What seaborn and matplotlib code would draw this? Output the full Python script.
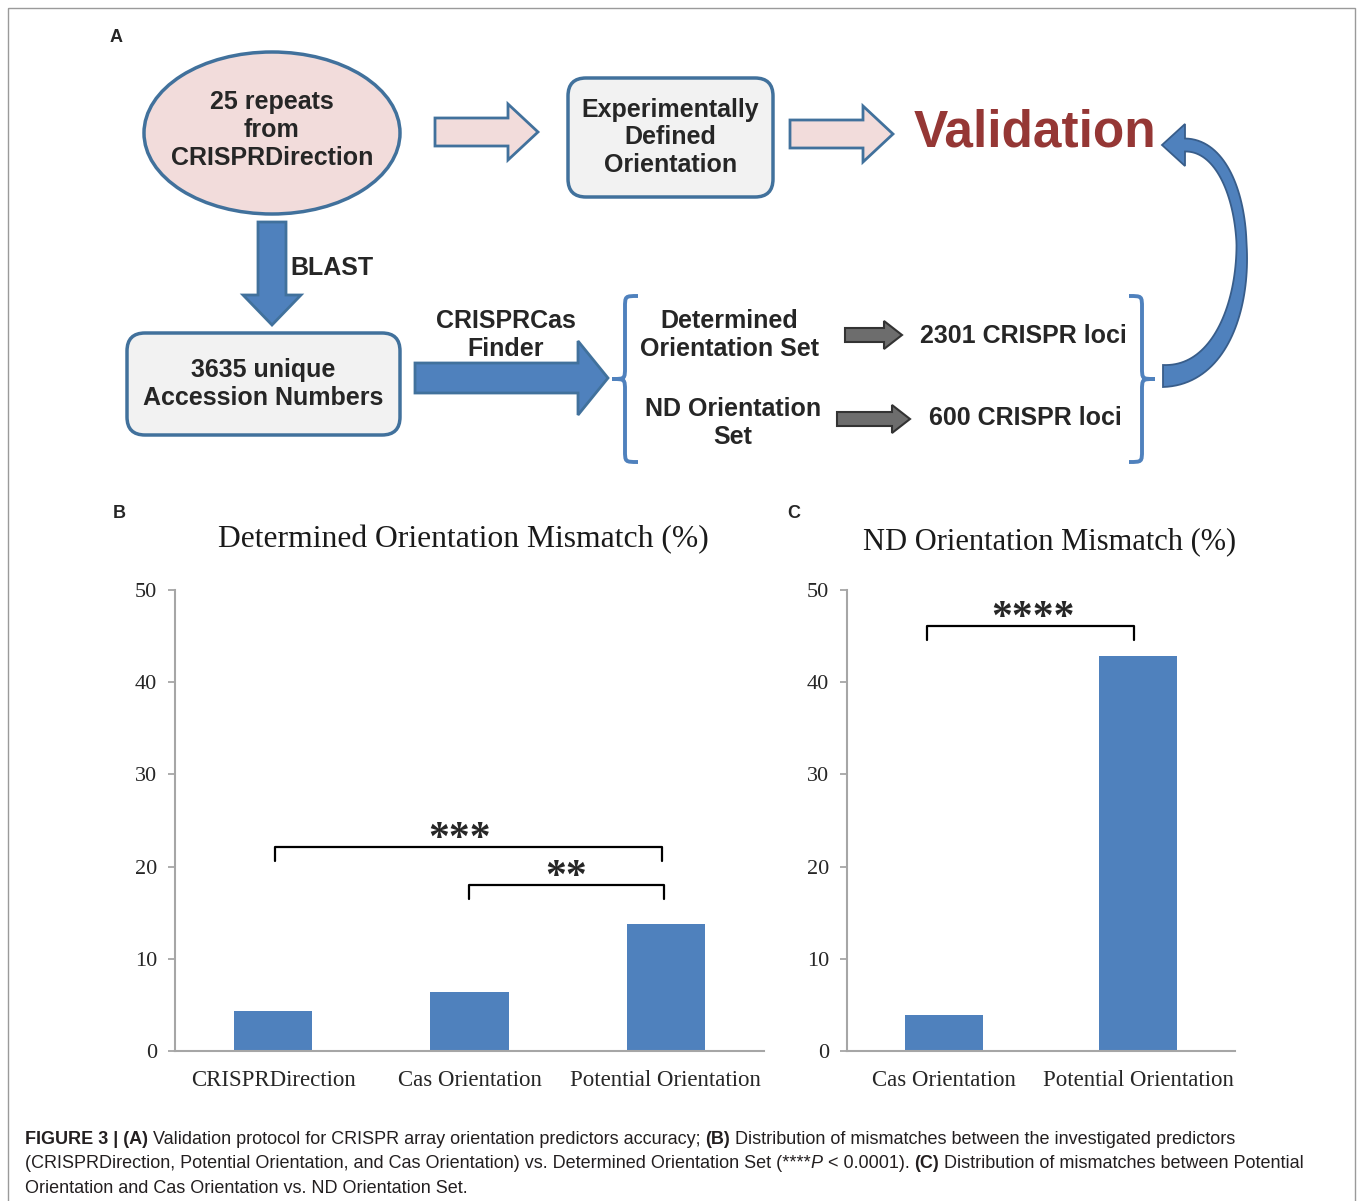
import numpy as np
import seaborn as sns
import matplotlib.pyplot as plt
from matplotlib import font_manager
from matplotlib.patches import Ellipse, FancyBboxPatch, FancyArrow, Polygon, PathPatch, Rectangle
from matplotlib.path import Path

# данные панелей B и C
b_categories = ["CRISPRDirection", "Cas Orientation", "Potential Orientation"]
b_values = [4.3, 6.4, 13.8]
c_categories = ["Cas Orientation", "Potential Orientation"]
c_values = [3.9, 42.8]
y_ticks = [0, 10, 20, 30, 40, 50]

sns.set_style("white")
plt.rcParams['font.family'] = ['Liberation Sans', 'DejaVu Sans']

W, H = 1357, 1201
fig = plt.figure(figsize=(W / 100, H / 100), dpi=100)
ax0 = fig.add_axes([0, 0, 1, 1])
ax0.set_xlim(0, W)
ax0.set_ylim(H, 0)
ax0.axis('off')

BLUE = '#4F81BD'
EDGE = '#41719C'
PINK = '#F2DCDB'
GREYBOX = '#F2F2F2'
FS = 18

# рамка вокруг рисунка
ax0.add_patch(Rectangle((8, 8), 1347, 1200, fill=False, edgecolor='#9A9A9A', lw=1))

# ---------- панель A ----------
ax0.text(116, 38, "A", fontsize=13, fontweight='bold', ha='center', va='center')

ax0.add_patch(Ellipse((272, 133), 256, 162, facecolor=PINK, edgecolor=EDGE, lw=2.5))
ax0.text(272, 130, "25 repeats\nfrom\nCRISPRDirection", fontsize=FS, fontweight='bold',
         ha='center', va='center', linespacing=1.2)


def box(x0, y0, x1, y1, txt):
    ax0.add_patch(FancyBboxPatch((x0, y0), x1 - x0, y1 - y0,
                                 boxstyle="round,pad=0,rounding_size=18",
                                 facecolor=GREYBOX, edgecolor=EDGE, lw=2.5))
    ax0.text((x0 + x1) / 2, (y0 + y1) / 2, txt, fontsize=FS, fontweight='bold',
             ha='center', va='center', linespacing=1.2)


def arrow(x, y, dx, dy, w, hw, hl, fc, ec, lw=2):
    ax0.add_patch(FancyArrow(x, y, dx, dy, width=w, head_width=hw, head_length=hl,
                             length_includes_head=True, facecolor=fc, edgecolor=ec, lw=lw))


box(568, 78, 773, 197, "Experimentally\nDefined\nOrientation")
box(127, 333, 400, 435, "3635 unique\nAccession Numbers")

arrow(435, 132, 103, 0, 28, 56, 30, PINK, EDGE)
arrow(790, 134, 103, 0, 28, 56, 30, PINK, EDGE)

ax0.text(1035, 133, "Validation", fontsize=37, fontweight='bold', color='#953735',
         ha='center', va='center')

arrow(272, 222, 0, 103, 28, 58, 30, BLUE, EDGE)
ax0.text(290, 268, "BLAST", fontsize=FS, fontweight='bold', ha='left', va='center')

ax0.text(506, 335, "CRISPRCas\nFinder", fontsize=FS, fontweight='bold',
         ha='center', va='center', linespacing=1.2)
arrow(415, 378, 193, 0, 30, 74, 30, BLUE, EDGE)


def brace(x, y0, y1, h, r=12):
    ym = (y0 + y1) / 2
    verts = [(x + h, y0), (x, y0), (x, y0), (x, y0 + r),
             (x, ym - r), (x, ym), (x, ym), (x - h, ym),
             (x, ym), (x, ym), (x, ym + r),
             (x, y1 - r), (x, y1), (x, y1), (x + h, y1)]
    codes = [Path.MOVETO, Path.CURVE4, Path.CURVE4, Path.CURVE4,
             Path.LINETO, Path.CURVE4, Path.CURVE4, Path.CURVE4,
             Path.CURVE4, Path.CURVE4, Path.CURVE4,
             Path.LINETO, Path.CURVE4, Path.CURVE4, Path.CURVE4]
    ax0.add_patch(PathPatch(Path(verts, codes), fill=False, edgecolor=BLUE, lw=2.8))


brace(625, 296, 462, 13)
brace(1142, 296, 462, -13)

ax0.text(729, 335, "Determined\nOrientation Set", fontsize=FS, fontweight='bold',
         ha='center', va='center', linespacing=1.2)
ax0.text(733, 423, "ND Orientation\nSet", fontsize=FS, fontweight='bold',
         ha='center', va='center', linespacing=1.2)

arrow(845, 335, 57, 0, 14, 28, 18, '#6D6D6D', '#333333', 1.5)
arrow(837, 419, 73, 0, 14, 28, 18, '#6D6D6D', '#333333', 1.5)

ax0.text(1023, 336, "2301 CRISPR loci", fontsize=FS, fontweight='bold', ha='center', va='center')
ax0.text(1025, 418, "600 CRISPR loci", fontsize=FS, fontweight='bold', ha='center', va='center')


# изогнутая стрелка обратно к Validation (сужающаяся дуга)
def curved_arrow(p0, p1, p2, p3, widths, head_w, head_l):
    t = np.linspace(0, 1, 80)[:, None]
    P = np.array([p0, p1, p2, p3], dtype=float)
    pts = (1 - t) ** 3 * P[0] + 3 * (1 - t) ** 2 * t * P[1] + 3 * (1 - t) * t ** 2 * P[2] + t ** 3 * P[3]
    d = 3 * (1 - t) ** 2 * (P[1] - P[0]) + 6 * (1 - t) * t * (P[2] - P[1]) + 3 * t ** 2 * (P[3] - P[2])
    d = d / np.linalg.norm(d, axis=1, keepdims=True)
    n = np.column_stack([-d[:, 1], d[:, 0]])
    w = np.interp(t[:, 0], widths[0], widths[1])[:, None] / 2
    side1 = pts + n * w
    side2 = pts - n * w
    end, tang, nrm = pts[-1], d[-1], n[-1]
    tip = end + tang * head_l
    poly = np.vstack([side1, end + nrm * head_w / 2, tip, end - nrm * head_w / 2, side2[::-1]])
    ax0.add_patch(Polygon(poly, closed=True, facecolor=BLUE, edgecolor='#385D8A', lw=1.3))


curved_arrow((1163, 376), (1266, 376), (1262, 145), (1185, 145),
             ([0, 0.55, 1], [22, 10, 13]), 42, 23)

# ---------- панели B и C ----------
SERIF = ['Liberation Serif', 'DejaVu Serif']
AXGREY = '#A6A6A6'


def make_axes(x0, x1, y0=590, y1=1051):
    return fig.add_axes([x0 / W, (H - y1) / H, (x1 - x0) / W, (y1 - y0) / H])


def style_axis(ax, cats):
    n = len(cats)
    ax.set_ylim(0, 50)
    ax.set_xlim(-0.5, n - 0.5)
    ax.set_yticks(y_ticks)
    ax.set_yticklabels([str(t) for t in y_ticks], fontsize=16, family=SERIF, color='#262626')
    ax.set_xticks(range(n))
    ax.set_xticklabels(cats, fontsize=16.5, family=SERIF, color='#262626')
    ax.set_xticks(np.arange(-0.5, n), minor=True)
    ax.tick_params(axis='x', which='major', length=0, pad=14)
    ax.tick_params(axis='x', which='minor', length=6, width=1.3, color=AXGREY, direction='out')
    ax.tick_params(axis='y', length=5, width=1.3, color=AXGREY, pad=8, direction='out', left=True)
    for s in ['top', 'right']:
        ax.spines[s].set_visible(False)
    for s in ['left', 'bottom']:
        ax.spines[s].set_color(AXGREY)
        ax.spines[s].set_linewidth(1.5)
    ax.set_xlabel('')
    ax.set_ylabel('')
    ax.patch.set_alpha(0)


def bracket(ax, xa, xb, y, drop, stars, sx):
    ax.plot([xa, xa, xb, xb], [y - drop, y, y, y - drop], color='black', lw=1.6, clip_on=False)
    ax.text(sx, y - 1.3, stars, fontsize=30, family=SERIF, fontweight='bold',
            ha='center', va='bottom', clip_on=False)


axB = make_axes(175, 764)
sns.barplot(x=b_categories, y=b_values, color=BLUE, saturation=1, width=0.4, linewidth=0, ax=axB)
style_axis(axB, b_categories)
bracket(axB, 0.01, 1.98, 22.1, 1.5, "***", 0.95)
bracket(axB, 1.0, 1.99, 18.0, 1.5, "**", 1.49)

axC = make_axes(847, 1235)
sns.barplot(x=c_categories, y=c_values, color=BLUE, saturation=1, width=0.4, linewidth=0, ax=axC)
style_axis(axC, c_categories)
bracket(axC, -0.09, 0.98, 46.1, 1.5, "****", 0.46)

ax0.text(119, 514, "B", fontsize=13, fontweight='bold', ha='center', va='center')
ax0.text(794, 514, "C", fontsize=13, fontweight='bold', ha='center', va='center')
ax0.text(463, 540, "Determined Orientation Mismatch (%)", fontsize=22.8, family=SERIF,
         ha='center', va='center', color='#1A1A1A')
ax0.text(1050, 542, "ND Orientation Mismatch (%)", fontsize=22, family=SERIF,
         ha='center', va='center', color='#1A1A1A')

# ---------- подпись ----------
names = {f.name for f in font_manager.fontManager.ttflist}
cap_font = 'Liberation Sans Narrow' if 'Liberation Sans Narrow' in names else 'Liberation Sans'
renderer = fig.canvas.get_renderer()
CAPCOL = '#231F20'

caption = [
    [("FIGURE 3 | (A)", 'bold', 'normal'),
     (" Validation protocol for CRISPR array orientation predictors accuracy; ", 'normal', 'normal'),
     ("(B)", 'bold', 'normal'),
     (" Distribution of mismatches between the investigated predictors", 'normal', 'normal')],
    [("(CRISPRDirection, Potential Orientation, and Cas Orientation) vs. Determined Orientation Set (****", 'normal', 'normal'),
     ("P", 'normal', 'italic'),
     (" < 0.0001). ", 'normal', 'normal'),
     ("(C)", 'bold', 'normal'),
     (" Distribution of mismatches between Potential", 'normal', 'normal')],
    [("Orientation and Cas Orientation vs. ND Orientation Set.", 'normal', 'normal')],
]


def text_width(s, size, weight='normal', style='normal'):
    t = ax0.text(0, 0, s, fontsize=size, family=cap_font, fontweight=weight, fontstyle=style)
    w = t.get_window_extent(renderer=renderer).width
    t.remove()
    return w


def run_width(s, size, weight, style):
    sp = text_width("a a", size, weight, style) - text_width("aa", size, weight, style)
    core = s.strip()
    w = text_width(core, size, weight, style) if core else 0
    return w + sp * (len(s) - len(s.lstrip())), w, sp * (len(s) - len(s.rstrip()))


def line_width(runs, size):
    total = 0
    for s, wt, st in runs:
        lead, w, trail = run_width(s, size, wt, st)
        total += lead + trail
    return total


# размер шрифта подбираем по ширине первой строки
cap_size = 12 * 1213 / line_width(caption[0], 12)

for i, runs in enumerate(caption):
    x = 25
    y = 1144 + i * 24.5
    for s, wt, st in runs:
        lead, w, trail = run_width(s, cap_size, wt, st)
        x += lead - w
        ax0.text(x, y, s.strip(), fontsize=cap_size, family=cap_font, fontweight=wt, fontstyle=st,
                 color=CAPCOL, ha='left', va='baseline')
        x += w + trail

fig.savefig("out.png", dpi=100)
